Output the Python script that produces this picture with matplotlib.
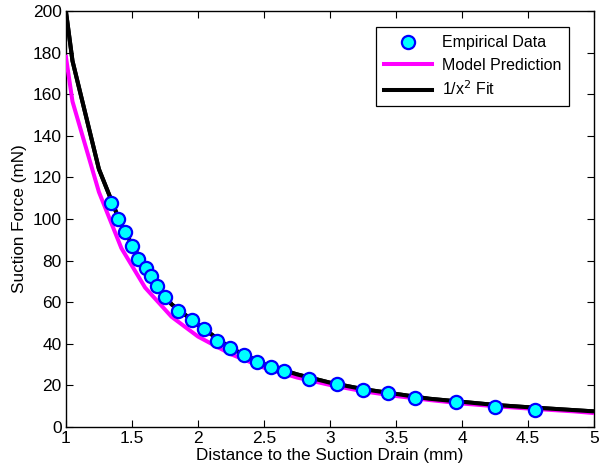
import numpy as np
import matplotlib
matplotlib.use("Agg")
import matplotlib.pyplot as plt

plt.rcParams['font.family'] = ['Liberation Sans', 'DejaVu Sans']

# empirical measurements
data_x = [1.339, 1.396, 1.447, 1.498, 1.543, 1.604, 1.644, 1.692, 1.748, 1.848,
          1.952, 2.043, 2.141, 2.242, 2.346, 2.449, 2.551, 2.652, 2.843, 3.051,
          3.252, 3.442, 3.644, 3.952, 4.25, 4.548]
data_y = [107.8, 100.0, 93.6, 87.2, 80.8, 76.4, 72.6, 67.8, 62.6, 55.6,
          51.4, 47.2, 41.5, 37.9, 34.5, 31.4, 28.7, 26.9, 23.3, 20.5,
          17.6, 16.5, 14.1, 11.9, 9.5, 8.2]

# curves
curve_x = [1.0, 1.05, 1.25, 1.42, 1.6, 1.8, 2.0, 2.25, 2.5, 2.75, 3.0,
           3.25, 3.5, 3.75, 4.0, 4.25, 4.5, 4.85, 5.0]
model_y = [178, 156.5, 113, 86, 67, 53, 43.5, 35, 28.5, 23.8, 20.2,
           17.2, 14.9, 13.0, 11.3, 10.0, 8.9, 7.5, 6.7]
fit_y = [200, 176, 124, 97, 76.5, 59, 49.2, 37.8, 30.2, 25.3, 21.3,
         18.2, 15.9, 13.6, 12.1, 10.6, 9.5, 8.1, 7.5]

fig = plt.figure(figsize=(5.99, 4.71), dpi=100)
ax = fig.add_axes([0.110, 0.0934, 0.882, 0.8832])

ax.plot(curve_x, fit_y, color='black', lw=2.9, label='$1/x^2$ Fit', zorder=2)
ax.plot(curve_x, model_y, color='magenta', lw=2.9, label='Model Prediction', zorder=3)
ax.plot(data_x, data_y, 'o', ms=9.5, mfc='cyan', mec='blue', mew=1.6,
        label='Empirical Data', zorder=4)
# black drawn again above magenta, as in the original
ax.plot(curve_x, fit_y, color='black', lw=2.9, zorder=3.5)

ax.set_xlim(1, 5)
ax.set_ylim(0, 200)
ax.set_xticks([1, 1.5, 2, 2.5, 3, 3.5, 4, 4.5, 5])
ax.set_xticklabels(['1', '1.5', '2', '2.5', '3', '3.5', '4', '4.5', '5'])
ax.set_yticks(np.arange(0, 201, 20))
ax.tick_params(direction='in', top=True, right=True, length=5, width=0.8,
               labelsize=12.5, pad=3)
for s in ax.spines.values():
    s.set_linewidth(1.0)

ax.set_xlabel('Distance to the Suction Drain (mm)', fontsize=12.3, labelpad=1)
ax.set_ylabel('Suction Force (mN)', fontsize=12.3, labelpad=4)

h, l = ax.get_legend_handles_labels()
order = [2, 1, 0]
leg = ax.legend([h[i] for i in order], ['Empirical Data', 'Model Prediction', '1/x$^2$ Fit'],
                loc='upper right', bbox_to_anchor=(0.968, 0.98), fontsize=11.5,
                fancybox=False, edgecolor='black', framealpha=1,
                handlelength=3.0, handletextpad=0.6, numpoints=1,
                borderpad=0.5, labelspacing=0.45)
leg.get_frame().set_linewidth(0.9)

fig.savefig('out.png', dpi=100)
